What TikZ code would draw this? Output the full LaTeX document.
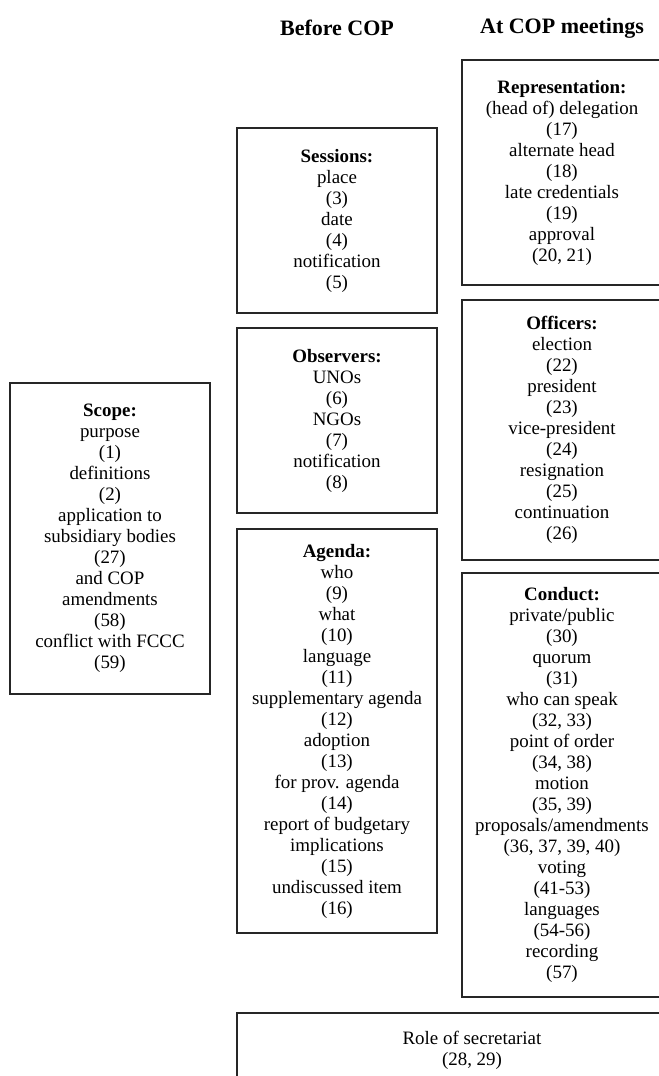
\documentclass[tikz,border=0pt]{standalone}
\usepackage{fontspec}
\setmainfont{Liberation Serif}
\begin{document}
\begin{tikzpicture}[x=0.75pt,y=-0.75pt,
  topic/.style={draw=black!85, line width=0.9pt, align=center, inner sep=2pt,
    minimum width=150pt,
    font=\fontsize{14.2pt}{15.75pt}\selectfont},
  heading/.style={font=\fontsize{16.5pt}{18pt}\selectfont\bfseries}]
  \useasboundingbox (0,0) rectangle (659,1076);
  \clip (0,0) rectangle (659,1076);

  % column headings
  \node[heading] (hbefore) at (337,28) {Before COP};
  \node[heading] (hat) at (562,28) {At COP meetings};

  % general rules
  \node[topic, minimum height=233.25pt] (scope) at (110,538.5)
    {\textbf{Scope:}\\purpose\\(1)\\definitions\\(2)\\application to\\subsidiary bodies\\(27)\\and COP\\amendments\\(58)\\conflict with FCCC\\(59)};

  % before the conference
  \node[topic, minimum height=138.75pt] (sessions) at (337,220.5)
    {\textbf{Sessions:}\\place\\(3)\\date\\(4)\\notification\\(5)};
  \node[topic, minimum height=138.75pt] (observers) at (337,420.5)
    {\textbf{Observers:}\\UNOs\\(6)\\NGOs\\(7)\\notification\\(8)};
  \node[topic, minimum height=303pt] (agenda) at (337,731)
    {\textbf{Agenda:}\\who\\(9)\\what\\(10)\\language\\(11)\\supplementary agenda\\(12)\\adoption\\(13)\\for prov. agenda\\(14)\\report of budgetary\\implications\\(15)\\undiscussed item\\(16)};

  % at the meetings
  \node[topic, minimum height=168.75pt] (representation) at (562,172.5)
    {\textbf{Representation:}\\(head of) delegation\\(17)\\alternate head\\(18)\\late credentials\\(19)\\approval\\(20, 21)};
  \node[topic, minimum height=195pt] (officers) at (562,430)
    {\textbf{Officers:}\\election\\(22)\\president\\(23)\\vice-president\\(24)\\resignation\\(25)\\continuation\\(26)};
  \node[topic, minimum height=318pt] (conduct) at (562,785)
    {\textbf{Conduct:}\\private/public\\(30)\\quorum\\(31)\\who can speak\\(32, 33)\\point of order\\(34, 38)\\motion\\(35, 39)\\proposals/amendments\\(36, 37, 39, 40)\\voting\\(41-53)\\languages\\(54-56)\\recording\\(57)};

  % secretariat
  \node[topic, minimum width=352.5pt, minimum height=56.25pt] (secretariat) at (472,1050.5)
    {Role of secretariat\\(28, 29)};
\end{tikzpicture}
\end{document}
